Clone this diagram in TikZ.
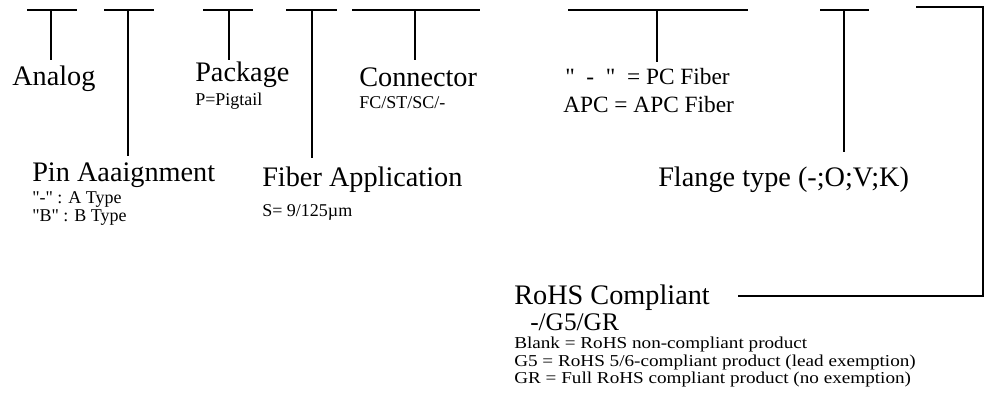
\documentclass[tikz,border=0pt]{standalone}
\usepackage{fontspec}
\setmainfont{Liberation Serif}[Ligatures=TeXOff]
\tikzstyle{title} = [anchor=base west, inner sep=0pt, font=\fontsize{21.2}{25}\selectfont]
\tikzstyle{option} = [anchor=base west, inner sep=0pt, font=\fontsize{13.5}{16}\selectfont]
\tikzstyle{fiber} = [anchor=base west, inner sep=0pt, font=\fontsize{17.5}{21}\selectfont]
\tikzstyle{code} = [anchor=base west, inner sep=0pt, font=\fontsize{19}{22}\selectfont]
\tikzstyle{rohs} = [anchor=base west, inner sep=0pt, font=\fontsize{12.5}{15}\selectfont\addfontfeature{FakeStretch=1.15}]
\tikzstyle{bar} = [line width=1.6pt]

\begin{document}
\begin{tikzpicture}[x=0.75pt, y=-0.75pt]
\useasboundingbox (0,0) rectangle (986,406);

\node (1) [title] at (12,86) {Analog};
\node (2) [title] at (32,182) {Pin Aaaignment};
\node (2a) [option] at (32,204) {"-" : A Type};
\node (2b) [option] at (32,222) {"B" : B Type};
\node (3) [title] at (195,82) {Package};
\node (3a) [option] at (195,106) {P=Pigtail};
\node (4) [title] at (262,187) {Fiber Application};
\node (4a) [option] at (262,217) {S= 9/125µm};
\node (5) [title] at (359,87) {Connector};
\node (5a) [option] at (359,109) {FC/ST/SC/-};
\node (6) [fiber] at (565,85) {"\ \ -\ \ "\ \ = PC Fiber};
\node (6a) [fiber] at (563,113) {APC = APC Fiber};
\node (7) [title] at (658,187) {Flange type (-;O;V;K)};
\node (8) [title] at (514,305) {RoHS Compliant};
\node (8a) [code] at (530,330) {-/G5/GR};
\node (8b) [rohs] at (514,349) {Blank = RoHS non-compliant product};
\node (8c) [rohs] at (514,366) {G5 = RoHS 5/6-compliant product (lead exemption)};
\node (8d) [rohs] at (514,383) {GR = Full RoHS compliant product (no exemption)};

\coordinate (1l) at (27,10);
\coordinate (1r) at (77,10);
\coordinate (1t) at (51,10);
\coordinate (1b) at (51,60);
\coordinate (2l) at (104,10);
\coordinate (2r) at (154,10);
\coordinate (2t) at (128,10);
\coordinate (2b) at (128,156);
\coordinate (3l) at (203,10);
\coordinate (3r) at (253,10);
\coordinate (3t) at (229,10);
\coordinate (3b) at (229,60);
\coordinate (4l) at (286,10);
\coordinate (4r) at (337,10);
\coordinate (4t) at (312,10);
\coordinate (4b) at (312,158);
\coordinate (5l) at (352,10);
\coordinate (5r) at (480,10);
\coordinate (5t) at (415,10);
\coordinate (5b) at (415,60);
\coordinate (6l) at (568,10);
\coordinate (6r) at (748,10);
\coordinate (6t) at (657,10);
\coordinate (6b) at (657,62);
\coordinate (7l) at (820,10);
\coordinate (7r) at (869,10);
\coordinate (7t) at (844,10);
\coordinate (7b) at (844,152);
\coordinate (8s) at (916,7);
\coordinate (8k) at (983,7);
\coordinate (8e) at (738,296);

\draw [bar] (1l) -- (1r);
\draw [bar] (1t) -- (1b);
\draw [bar] (2l) -- (2r);
\draw [bar] (2t) -- (2b);
\draw [bar] (3l) -- (3r);
\draw [bar] (3t) -- (3b);
\draw [bar] (4l) -- (4r);
\draw [bar] (4t) -- (4b);
\draw [bar] (5l) -- (5r);
\draw [bar] (5t) -- (5b);
\draw [bar] (6l) -- (6r);
\draw [bar] (6t) -- (6b);
\draw [bar] (7l) -- (7r);
\draw [bar] (7t) -- (7b);
\draw [bar] (8s) -- (8k) |- (8e);

\end{tikzpicture}
\end{document}
